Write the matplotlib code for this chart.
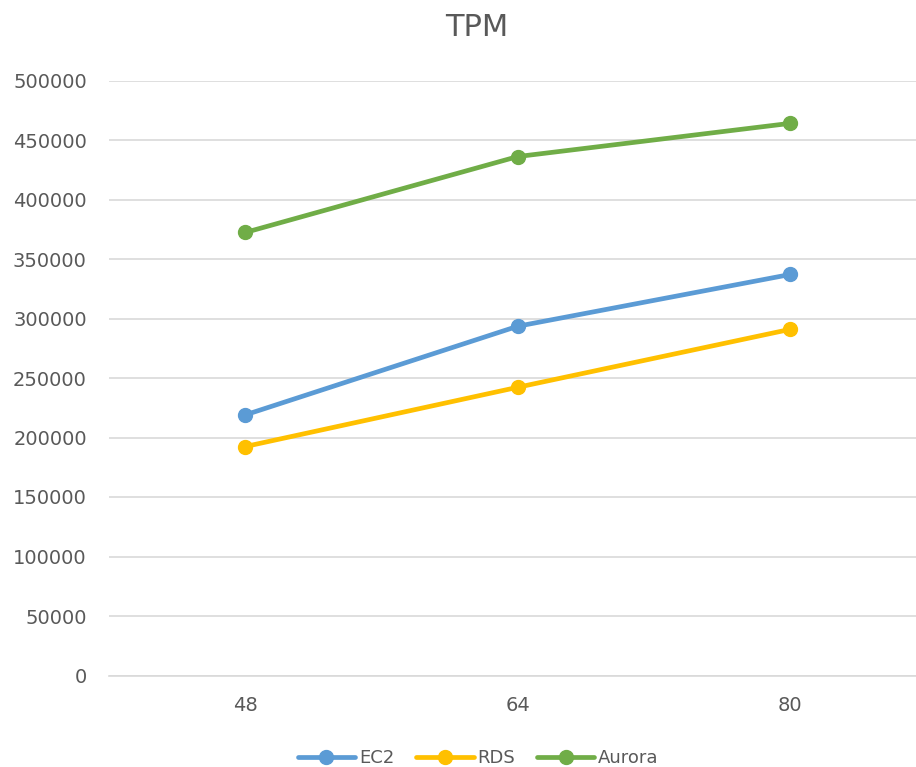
import matplotlib.pyplot as plt

# data
categories = ["48", "64", "80"]
ec2 = [219000, 293500, 337000]
rds = [192400, 242200, 290900]
aurora = [372300, 436100, 464000]
yticks = list(range(0, 500001, 50000))

plt.rcParams['font.family'] = ['DejaVu Sans']
txt = "#595959"

fig = plt.figure(figsize=(9.16, 7.67), dpi=100)
# plot area in pixels: left 109, right 916, bottom 675.5, top 80.5
ax = fig.add_axes([109 / 916, (767 - 675.5) / 767, (916 - 109) / 916, (675.5 - 80.5) / 767])

x = list(range(len(categories)))
ax.plot(x, ec2, color="#5B9BD5", lw=3.4, marker="o", ms=10, label="EC2", solid_capstyle="round")
ax.plot(x, rds, color="#FFC000", lw=3.4, marker="o", ms=10, label="RDS", solid_capstyle="round")
ax.plot(x, aurora, color="#70AD47", lw=3.4, marker="o", ms=10, label="Aurora", solid_capstyle="round")

ax.set_xlim(-0.5, -0.5 + 807 / 272.5)
ax.set_ylim(0, 500000)
ax.set_xticks(x)
ax.set_xticklabels(categories)
ax.set_yticks(yticks)
ax.set_yticklabels([str(v) for v in yticks])
ax.grid(axis="y", color="#D9D9D9", lw=1.2)
ax.set_axisbelow(True)
for s in ["top", "right", "left"]:
    ax.spines[s].set_visible(False)
ax.spines["bottom"].set_color("#D9D9D9")
ax.spines["bottom"].set_linewidth(1.2)
ax.tick_params(axis="both", length=0, labelsize=14, colors=txt)
ax.tick_params(axis="y", pad=16)
ax.tick_params(axis="x", pad=15)

fig.text(477 / 916, 1 - 27 / 767, "TPM", ha="center", va="center", fontsize=22, color=txt)

fig.legend(loc="center", bbox_to_anchor=(478 / 916, 1 - 758 / 767), ncol=3, frameon=False,
           fontsize=13, labelcolor=txt, handlelength=3.2, columnspacing=1.2, handletextpad=0.2)

fig.savefig("out.png", dpi=100)
